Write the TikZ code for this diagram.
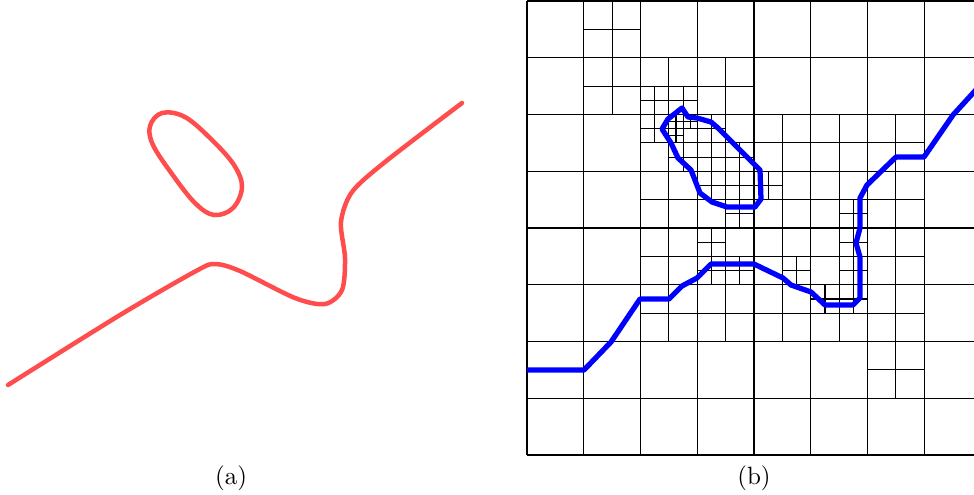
\documentclass[tikz,border=0pt]{standalone}
\usepackage{xcolor}
\usepackage{tikz}

\definecolor{curvered}{RGB}{255,77,77}
\definecolor{pathblue}{RGB}{0,0,255}

\begin{document}
\begin{tikzpicture}[
  x=0.4pt, y=-0.4pt,
  cellline/.style={line width=0.45pt, black},
  curve/.style={line width=1.8pt, curvered, line cap=round},
  trace/.style={line width=2.1pt, pathblue, line join=round},
  lbl/.style={font=\normalsize}
]
\useasboundingbox (0,0) rectangle (974,494);
\clip (0,0) rectangle (974,494);

%% (a) input curve
\draw[curve] plot[smooth, tension=0.5] coordinates {
  (8,385) (120,315) (196,271) (215,264) (240,271) (295,298) (325,304)
  (342,290) (345,258) (341,222) (352,192) (385,162) (462,103)};
\draw[curve] plot[smooth cycle, tension=0.6] coordinates {
  (150,126) (162,113) (185,117) (212,140) (234,165) (242,187)
  (233,208) (214,215) (195,203) (172,174) (153,145)};

%% (b) quadtree, level-3 units (8 per coarse cell)
\begin{scope}[shift={(210.8pt,-0.4pt)}, x=2.8375pt, y=-2.8375pt]
  %% coarse 8x8 cells
  \foreach \i in {0,8,...,64}
    \draw[cellline] (\i,0) -- (\i,64) (0,\i) -- (64,\i);
  %% refined cells: corner u/v and size
  \foreach \u/\v/\s in {
      8/0/8, 8/8/8, 16/8/8, 24/8/8,
      16/16/8, 24/16/8, 32/16/8, 40/16/8, 48/16/8,
      16/24/8, 24/24/8, 32/24/8, 40/24/8, 48/24/8,
      16/32/8, 24/32/8, 32/32/8, 40/32/8, 48/32/8,
      16/40/8, 24/40/8, 32/40/8, 40/40/8, 48/40/8,
      48/48/8,
      16/12/4, 20/12/4, 16/16/4, 20/16/4, 20/20/4,
      24/16/4, 24/20/4, 28/20/4,
      24/24/4, 28/24/4, 28/28/4,
      24/32/4, 24/36/4, 28/36/4,
      32/24/4, 36/36/4, 44/28/4,
      44/32/4, 44/36/4, 40/40/4, 44/40/4,
      20/16/2, 22/16/2, 20/18/2}
    \draw[cellline] (\u+\s/2,\v) -- ++(0,\s) (\u,\v+\s/2) -- ++(\s,0);
\end{scope}

%% (b) traced boundary
\draw[trace] (527,370) -- (584,370) -- (611,342) -- (640,299) -- (669,299)
  -- (682,286) -- (697,278) -- (711,264) -- (754,264) -- (783,278)
  -- (791,285) -- (811,292) -- (825,305) -- (853,305) -- (860,298)
  -- (860,257) -- (856,243) -- (860,228) -- (860,198) -- (867,185)
  -- (896,157) -- (924,157) -- (953,115) -- (985,80);
\draw[trace] (682,108) -- (688,117) -- (697,118) -- (711,122) -- (718,128)
  -- (760,170) -- (761,199) -- (755,207) -- (727,207) -- (712,202)
  -- (700,193) -- (691,170) -- (678,158) -- (671,143) -- (662,129)
  -- (668,119) -- cycle;

%% captions
\node[lbl] (capa) at (231,478) {(a)};
\node[lbl] (capb) at (754,478) {(b)};

\end{tikzpicture}
\end{document}
